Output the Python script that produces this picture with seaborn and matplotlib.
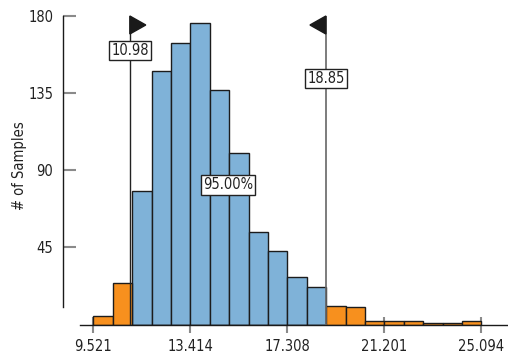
import numpy as np
import pandas as pd
import matplotlib
matplotlib.use("Agg")
import matplotlib.pyplot as plt
import seaborn as sns

# ---- data ----
x_min = 9.521
x_max = 25.094
n_bins = 20
counts = [5, 24, 78, 148, 164, 176, 137, 100, 54, 43, 28, 22, 11, 10, 2, 2, 2, 1, 1, 2]
lower_bound = 10.98
upper_bound = 18.85
inside_label = "95.00%"
x_tick_labels = ["9.521", "13.414", "17.308", "21.201", "25.094"]
y_ticks = [45, 90, 135, 180]
y_label = "# of Samples"

sns.set_style("white")
plt.rcParams['font.family'] = ['DejaVu Sans']
plt.rcParams['font.stretch'] = 'condensed'

bin_w = (x_max - x_min) / n_bins
edges = x_min + bin_w * np.arange(n_bins + 1)
centers = edges[:-1] + bin_w / 2
region = ["inside" if (c > lower_bound and c < upper_bound) else "outside" for c in centers]
df = pd.DataFrame({"center": centers, "count": counts, "region": region})

fig = plt.figure(figsize=(5.08, 3.58), dpi=100)
ax = fig.add_axes([63/508, 33.5/358, 445/508, 308.5/358])

sns.histplot(data=df, x="center", weights="count", hue="region",
             binwidth=bin_w, binrange=(x_min, x_max),
             palette={"inside": "#7fb2d8", "outside": "#f7901e"},
             multiple="layer", alpha=1, edgecolor="#1c1c1c", linewidth=1.0,
             legend=False, ax=ax)

ax.set_xlim(8.297, 26.16)
ax.set_ylim(0, 180)

# bound lines + flags
flag_w = 0.64
flag_h = 10.5
ax.plot([lower_bound, lower_bound], [0, 180], color="#222222", lw=1.0, zorder=5)
ax.plot([upper_bound, upper_bound], [0, 180], color="#666666", lw=1.2, zorder=5)
ax.fill([lower_bound, lower_bound + flag_w, lower_bound],
        [180, 180 - flag_h / 2, 180 - flag_h], color="#1a1a1a", zorder=6, clip_on=False)
ax.fill([upper_bound, upper_bound - flag_w, upper_bound],
        [180, 180 - flag_h / 2, 180 - flag_h], color="#1a1a1a", zorder=6, clip_on=False)

fs = 10.5
box = dict(boxstyle="square,pad=0.15", fc="white", ec="#222222", lw=1.0)
ax.text(lower_bound, 159.8, f"{lower_bound:.2f}", ha="center", va="center",
        fontsize=fs, color="#222222", bbox=box, zorder=7)
ax.text(upper_bound, 143.6, f"{upper_bound:.2f}", ha="center", va="center",
        fontsize=fs, color="#222222", bbox=box, zorder=7)
ax.text((lower_bound + upper_bound) / 2, 81.5, inside_label, ha="center", va="center",
        fontsize=fs, color="#222222", bbox=box, zorder=7)

# axes styling
ax.set_xticks(edges[::5])
ax.set_xticklabels(x_tick_labels, fontsize=fs, color="#222222")
ax.set_yticks(y_ticks)
ax.set_yticklabels([str(v) for v in y_ticks], fontsize=fs, color="#222222")
ax.tick_params(axis="y", direction="in", length=9.5, width=1.5, color="#8a8a8a", pad=7, left=True)
ax.tick_params(axis="x", direction="inout", length=11, width=1.5, color="#8a8a8a", pad=5, bottom=True)
ax.set_xlabel("")
ax.set_ylabel(y_label, fontsize=fs, color="#222222")
ax.yaxis.set_label_coords(-0.082, 0.515)

for s in ["top", "right"]:
    ax.spines[s].set_visible(False)
ax.spines["left"].set_bounds(10, 180)
ax.spines["bottom"].set_bounds(8.979, 26.16)
ax.spines["left"].set_color("#1a1a1a")
ax.spines["bottom"].set_color("#1a1a1a")
ax.spines["left"].set_linewidth(1.0)
ax.spines["bottom"].set_linewidth(1.0)

fig.savefig("out.png", dpi=100)
